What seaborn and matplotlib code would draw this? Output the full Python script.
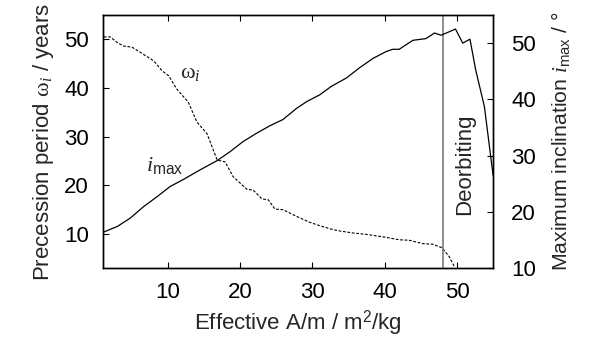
"""
Precession period and maximum inclination vs effective area-to-mass ratio.
"""

import numpy as np
import pandas as pd
import matplotlib
matplotlib.use("Agg")
import matplotlib.pyplot as plt
import matplotlib.transforms as mtransforms
import seaborn as sns

sns.set_theme(style="ticks")
plt.rcParams["font.family"] = ["Liberation Sans", "DejaVu Sans"]
plt.rcParams["mathtext.fontset"] = "custom"
plt.rcParams["mathtext.rm"] = "Liberation Sans"
plt.rcParams["mathtext.it"] = "Liberation Serif:italic"
plt.rcParams["mathtext.sf"] = "Liberation Serif"

# ── Data ─────────────────────────────────────────────────────────────────────
omega_x = [1.1, 2.0, 3.0, 3.9, 5.0, 6.2, 8.0, 9.2, 10.1, 11.2, 12.8, 14.0, 15.4,
           16.1, 16.8, 17.9, 19.0, 20.9, 21.8, 23.0, 23.9, 24.8, 25.9, 27.8,
           29.6, 31.0, 32.8, 33.8, 35.6, 37.5, 40.2, 42.0, 43.4, 45.3, 46.6,
           47.9, 48.9, 49.6]
omega_y = [50.5, 50.5, 49.3, 48.6, 48.4, 47.3, 45.6, 43.5, 42.5, 39.8, 37.1, 33.0,
           30.6, 27.9, 25.2, 24.8, 21.8, 19.2, 19.0, 17.2, 17.0, 15.1, 15.0, 13.6,
           12.4, 11.7, 10.9, 10.6, 10.2, 9.9, 9.3, 8.8, 8.7, 8.0, 7.9,
           7.2, 5.4, 3.4]

imax_x = [1.1, 3.0, 4.8, 6.6, 8.5, 10.3, 12.2, 14.5, 16.8, 18.6, 20.4, 22.3, 24.1,
          25.9, 27.8, 29.2, 31.0, 32.6, 34.7, 36.5, 38.4, 40.2, 41.1, 42.0, 43.9,
          45.7, 46.9, 47.8, 49.8, 50.8, 51.8, 52.6, 53.8, 55.0]
imax_y = [16.4, 17.4, 18.9, 20.9, 22.7, 24.5, 25.8, 27.5, 29.1, 30.7, 32.5, 34.0,
          35.3, 36.4, 38.4, 39.6, 40.8, 42.3, 43.8, 45.6, 47.3, 48.5, 48.9, 48.9,
          50.5, 50.8, 51.8, 51.4, 52.5, 50.0, 50.7, 45.2, 38.7, 26.5]

deorbit_x = 48.0
x_ticks = [10, 20, 30, 40, 50]
y_ticks = [10, 20, 30, 40, 50]

omega = pd.DataFrame({"Am": omega_x, "omega": omega_y})
imax = pd.DataFrame({"Am": imax_x, "imax": imax_y})

# ── Plot ─────────────────────────────────────────────────────────────────────
FS = 16
fig = plt.figure(figsize=(5.91, 3.45), dpi=100)
ax = fig.add_axes([0.1743, 0.2232, 0.66, 0.7333])
ax2 = ax.twinx()

sns.lineplot(data=omega, x="Am", y="omega", ax=ax, color="black",
             linewidth=0.8, linestyle=(0, (2.5, 1.5)), estimator=None, sort=False)
sns.lineplot(data=imax, x="Am", y="imax", ax=ax2, color="black",
             linewidth=0.9, estimator=None, sort=False)
ax.axvline(deorbit_x, color="#707070", linewidth=1.1)

ax.set_xlim(1, 55)
ax.set_ylim(3, 55)
ax2.set_ylim(10, 55)
ax.set_xticks(x_ticks)
ax.set_yticks(y_ticks)
ax2.set_yticks(y_ticks)

for a in (ax, ax2):
    for s in a.spines.values():
        s.set_visible(True)
        s.set_color("black")
        s.set_linewidth(1.0)
ax.tick_params(axis="x", direction="in", length=4, width=0.8, top=True,
               labelsize=FS, pad=10, colors="black")
ax.tick_params(axis="y", direction="in", length=4, width=0.8,
               labelsize=FS, pad=10, colors="black")
ax2.tick_params(axis="y", direction="in", length=4, width=0.8,
                labelsize=FS, pad=13, colors="black")

ax.set_xlabel("Effective A/m / m$^2$/kg", fontsize=FS, labelpad=4)
ax.set_ylabel(r"Precession period $\mathsf{\omega}_i$ / years", fontsize=FS, labelpad=6)
ax2.set_ylabel(r"Maximum inclination $i_{\rm max}$ / °", fontsize=15.3, labelpad=9)

ax.text(13.1, 43.1, r"$\mathsf{\omega}_i$", fontsize=FS, ha="center", va="center")
ax.text(9.6, 24.1, r"$i_{\rm max}$", fontsize=FS, ha="center", va="center")
trans = mtransforms.blended_transform_factory(ax.transData, ax.transAxes)
ax.text(51.0, 0.41, "Deorbiting", rotation=90, fontsize=FS,
        ha="center", va="center", transform=trans)

fig.savefig("out.png", dpi=100)
